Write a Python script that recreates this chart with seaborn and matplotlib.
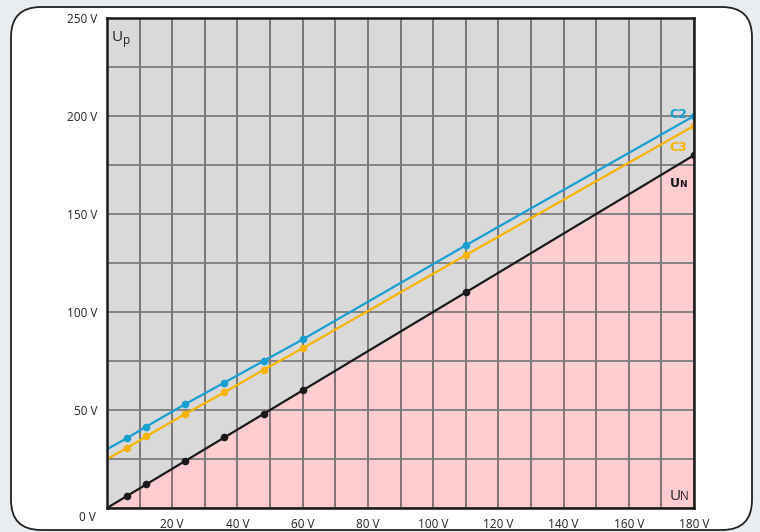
import numpy as np
import pandas as pd
import matplotlib
matplotlib.use("Agg")
import matplotlib.pyplot as plt
from matplotlib.patches import FancyBboxPatch
import seaborn as sns

# values (x = nominal voltage U_N)
un_x = [0, 6, 12, 24, 36, 48, 60, 110, 180]
un_y = [0, 6, 12, 24, 36, 48, 60, 110, 180]
c2_y = [30, 35.5, 41.5, 53, 64, 75, 86, 134, 200]
c3_y = [25, 30.5, 36.5, 48, 59, 70.5, 81.5, 129, 195]

x_ticks = [0, 20, 40, 60, 80, 100, 120, 140, 160, 180]
x_labels = ["", "20 V", "40 V", "60 V", "80 V", "100 V", "120 V", "140 V", "160 V", "180 V"]
y_ticks = [0, 50, 100, 150, 200, 250]
y_labels = ["", "50 V", "100 V", "150 V", "200 V", "250 V"]

blue = "#179fd2"
yellow = "#f7b500"
black = "#1a1a1a"
grid_v = "#5c5c5c"
grid_h = "#7c7c7c"

sns.set_style("white")
plt.rcParams["font.family"] = ["Open Sans", "DejaVu Sans"]

fig = plt.figure(figsize=(7.6, 5.32), dpi=100)
fig.patch.set_facecolor("#e9edf0")

# rounded white card, drawn in pixel units on a background axes
bg = fig.add_axes([0, 0, 1, 1], zorder=-5)
bg.set_xlim(0, 760)
bg.set_ylim(532, 0)
bg.axis("off")
bg.add_patch(FancyBboxPatch((11, 7), 741, 523,
                            boxstyle="round,pad=0,rounding_size=30",
                            facecolor="white", edgecolor="#222222", linewidth=1.3))

ax = fig.add_axes([107 / 760, 24 / 532, 587 / 760, 490 / 532])
ax.set_facecolor("#d9d9d9")
ax.set_xlim(0, 180)
ax.set_ylim(0, 250)

ax.fill_between(un_x, 0, un_y, color="#ffccd0", zorder=1, linewidth=0)

ax.set_xticks(np.arange(0, 181, 10), minor=True)
ax.set_yticks(np.arange(0, 251, 25), minor=True)
ax.grid(which="both", axis="x", color=grid_v, linewidth=1.1, zorder=2)
ax.grid(which="both", axis="y", color=grid_h, linewidth=1.3, zorder=2)
ax.set_axisbelow(False)

sns.lineplot(x=un_x, y=c2_y, ax=ax, color=blue, linewidth=1.6, marker="o",
             markersize=5.5, markeredgewidth=0, markevery=slice(1, None), zorder=4)
sns.lineplot(x=un_x, y=c3_y, ax=ax, color=yellow, linewidth=1.6, marker="o",
             markersize=5.5, markeredgewidth=0, markevery=slice(1, None), zorder=4)
sns.lineplot(x=un_x, y=un_y, ax=ax, color=black, linewidth=1.6, marker="o",
             markersize=5.5, markeredgewidth=0, markevery=slice(1, None), zorder=5)

ax.set_xticks(x_ticks)
ax.set_xticklabels(x_labels)
ax.set_yticks(y_ticks)
ax.set_yticklabels(y_labels)
ax.tick_params(axis="both", which="major", direction="out", length=6, width=1,
               color=grid_v, labelsize=8.5, labelcolor="#222222", pad=1)
ax.tick_params(axis="y", which="minor", direction="out", length=6, width=1.2,
               color=grid_h)
ax.tick_params(axis="x", which="minor", length=0)

for s in ax.spines.values():
    s.set_color(black)
    s.set_linewidth(1.8)
    s.set_zorder(6)

ax.text(-3.5, -5, "0 V", ha="right", va="center", fontsize=8.5,
        color="#222222", clip_on=False)

# axis name labels
ax.text(1.5, 240, "U", ha="left", va="center", fontsize=11, color="#222222")
ax.text(4.9, 238.7, "p", ha="left", va="center", fontsize=8.5, color="#222222")
ax.text(175.9, 4.3, "U", ha="right", va="baseline", fontsize=11, color="#222222")
ax.text(175.7, 4.3, "N", ha="left", va="baseline", fontsize=8.5, color="#222222")

# series labels (bold face)
bold = dict(fontweight="bold", family=["DejaVu Sans"])
ax.text(177.8, 200.8, "C2", ha="right", va="center", fontsize=9, color=blue, **bold)
ax.text(177.8, 183.8, "C3", ha="right", va="center", fontsize=9, color=yellow, **bold)
ax.text(175.6, 165.5, "U", ha="right", va="center", fontsize=9, color=black, **bold)
ax.text(175.4, 164.9, "N", ha="left", va="center", fontsize=6.5, color=black, **bold)

fig.savefig("out.png", dpi=100, facecolor=fig.get_facecolor())
